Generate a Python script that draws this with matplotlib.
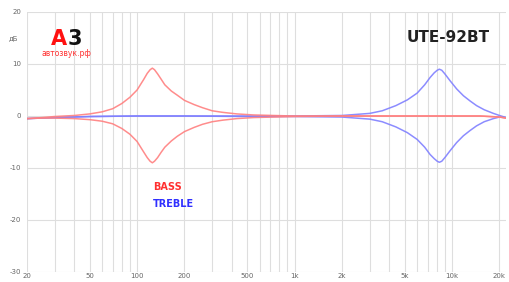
import numpy as np
import matplotlib
matplotlib.use("Agg")
import matplotlib.pyplot as plt

# ---- data ----
bass_freq = [20, 25, 30, 40, 50, 60, 70, 80, 90, 100, 110, 116, 121, 125, 129, 135, 142, 150, 165, 180, 200, 230, 260, 300, 350, 430, 550, 730, 1000, 2000, 5000, 10000, 15000, 20000, 22000]
bass_boost = [-0.5, -0.3, -0.1, 0.1, 0.4, 0.8, 1.4, 2.4, 3.6, 5.0, 7.0, 8.2, 8.9, 9.2, 8.9, 8.1, 7.1, 6.0, 4.8, 4.0, 3.0, 2.2, 1.6, 1.0, 0.7, 0.4, 0.2, 0.1, 0.0, 0.0, 0.0, 0.0, 0.0, -0.2, -0.4]
bass_cut = [-0.5, -0.4, -0.4, -0.5, -0.7, -1.0, -1.5, -2.4, -3.5, -4.9, -6.9, -8.0, -8.7, -9.0, -8.7, -8.0, -7.0, -6.0, -4.8, -3.9, -3.0, -2.2, -1.6, -1.1, -0.8, -0.5, -0.3, -0.2, -0.1, 0.0, 0.0, 0.0, 0.0, -0.2, -0.4]

treble_freq = [20, 30, 50, 100, 200, 500, 1000, 2000, 3000, 3600, 4400, 5200, 6000, 6700, 7250, 7700, 8050, 8300, 8600, 9000, 9700, 10700, 11800, 13000, 14300, 16000, 18300, 20000, 22000]
treble_boost = [-0.5, -0.3, -0.1, 0.0, 0.0, 0.0, 0.0, 0.1, 0.5, 1.0, 2.0, 3.1, 4.4, 6.0, 7.4, 8.3, 8.8, 9.0, 8.8, 8.1, 6.8, 5.2, 3.9, 2.9, 2.0, 1.2, 0.5, 0.1, -0.3]
treble_cut = [-0.5, -0.3, -0.1, 0.0, 0.0, -0.1, -0.1, -0.2, -0.6, -1.1, -2.1, -3.2, -4.5, -6.0, -7.4, -8.2, -8.7, -8.9, -8.7, -8.0, -6.7, -5.1, -3.8, -2.8, -1.9, -1.1, -0.5, -0.2, -0.3]

y_ticks = [20, 10, 0, -10, -20, -30]
x_tick_vals = [20, 50, 100, 200, 500, 1000, 2000, 5000, 10000, 20000]
x_tick_labels = ["20", "50", "100", "200", "500", "1k", "2k", "5k", "10k", "20k"]

W, H = 509, 282
fig = plt.figure(figsize=(W / 100, H / 100), dpi=100)
fig.patch.set_facecolor("white")
ax = fig.add_axes([27 / W, 1 - 272 / H, (506 - 27) / W, (272 - 12) / H])
ax.set_xscale("log")
ax.set_xlim(20, 22000)
ax.set_ylim(-30, 20)

# grid
minor = [20, 30, 40, 50, 60, 70, 80, 90, 100, 200, 300, 400, 500, 600, 700, 800, 900,
         1000, 2000, 3000, 4000, 5000, 6000, 7000, 8000, 9000, 10000, 20000]
for f in minor:
    ax.axvline(f, color="#dedede", lw=0.8, zorder=0)
for y in y_ticks:
    ax.axhline(y, color="#dedede", lw=0.8, zorder=0)

for s in ax.spines.values():
    s.set_visible(False)

red = "#ff8080"
blue = "#8080ff"
ax.plot(treble_freq, treble_boost, color=blue, lw=1.1, alpha=0.9, zorder=2)
ax.plot(treble_freq, treble_cut, color=blue, lw=1.1, alpha=0.9, zorder=2)
ax.plot(bass_freq, bass_boost, color=red, lw=1.1, alpha=0.9, zorder=3)
ax.plot(bass_freq, bass_cut, color=red, lw=1.1, alpha=0.9, zorder=3)

ax.set_yticks(y_ticks)
ax.set_yticklabels([str(v) for v in y_ticks])
ax.set_xticks(x_tick_vals)
ax.set_xticklabels(x_tick_labels)
ax.xaxis.set_minor_locator(matplotlib.ticker.NullLocator())
ax.tick_params(axis="both", length=0, labelsize=5, colors="#666666")
ax.tick_params(axis="x", pad=1)
ax.tick_params(axis="y", pad=4)

# texts
fig.text(13 / W, 1 - 38 / H, "дБ", fontsize=5, color="#666666", ha="center", va="center")
fig.text(51 / W, 1 - 39 / H, "A", fontsize=15, color="#ff1010", fontweight="bold", ha="left", va="center")
fig.text(68 / W, 1 - 39 / H, "3", fontsize=15, color="#111111", fontweight="bold", ha="left", va="center")
fig.text(66 / W, 1 - 53 / H, "автозвук.рф", fontsize=5.5, color="#ff3030", ha="center", va="center")
fig.text(448 / W, 1 - 38 / H, "UTE-92BT", fontsize=11, color="#222222", fontweight="bold", ha="center", va="center")
fig.text(153 / W, 1 - 187 / H, "BASS", fontsize=7, color="#ff3030", fontweight="bold", ha="left", va="center")
fig.text(153 / W, 1 - 204 / H, "TREBLE", fontsize=7, color="#3030ff", fontweight="bold", ha="left", va="center")

fig.savefig("out.png", dpi=100, facecolor="white")
